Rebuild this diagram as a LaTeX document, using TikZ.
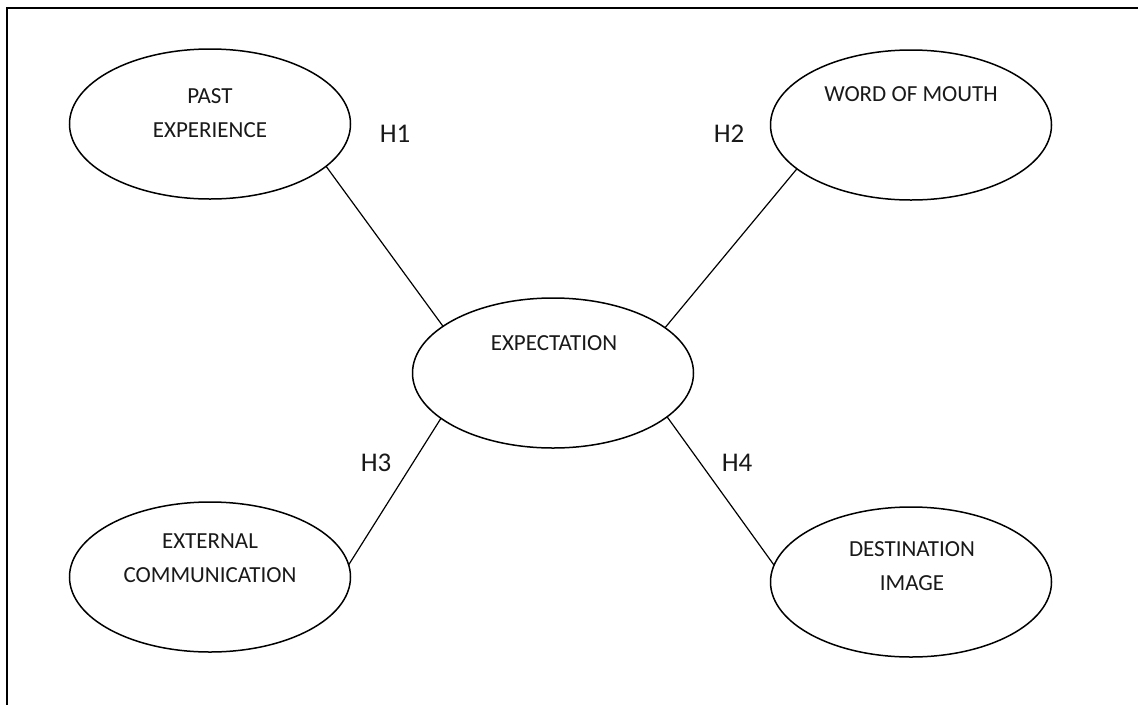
\documentclass[tikz,border=0pt]{standalone}
\usepackage{fontspec}
\setmainfont{Carlito}
\usetikzlibrary{shapes.geometric}
\begin{document}
\begin{tikzpicture}[x=1pt,y=-1pt,
  oval/.style={draw,ellipse,line width=1.5pt,minimum width=281pt,minimum height=150pt,inner sep=0pt,outer sep=0pt},
  otext/.style={align=center,inner sep=0pt,font=\fontsize{23}{33.7}\selectfont,text=black!90},
  hlab/.style={inner sep=0pt,font=\fontsize{27}{32}\selectfont,text=black!90},
  link/.style={line width=1.2pt}]
\useasboundingbox (0,0) rectangle (1138,705);
\coordinate (ftl) at (7,8);
\coordinate (ftr) at (1138,8);
\coordinate (fbl) at (7,705);
\draw[line width=2pt] (ftr) -- (ftl) -- (fbl);

\node[oval] (past) at (210,124) {};
\node[oval] (wom) at (911,125) {};
\node[oval] (exp) at (553,373) {};
\node[oval] (ext) at (210,577) {};
\node[oval] (dest) at (911,582) {};

\node[otext] (pastt) at (210,113) {PAST\\EXPERIENCE};
\node[otext] (womt) at (911,94) {WORD OF MOUTH};
\node[otext] (expt) at (554,343) {EXPECTATION};
\node[otext] (extt) at (210,558) {EXTERNAL\\COMMUNICATION};
\node[otext] (destt) at (912,566) {DESTINATION\\IMAGE};

\draw[link] (past.-20) -- (exp.157);
\draw[link] (wom.-159) -- (exp.22);
\draw[link] (exp.202) -- (ext.5);
\draw[link] (exp.-21) -- (dest.173);

\node[hlab] (h1) at (395,134) {H1};
\node[hlab] (h2) at (729,134) {H2};
\node[hlab] (h3) at (376,463) {H3};
\node[hlab] (h4) at (737,463) {H4};
\end{tikzpicture}
\end{document}
